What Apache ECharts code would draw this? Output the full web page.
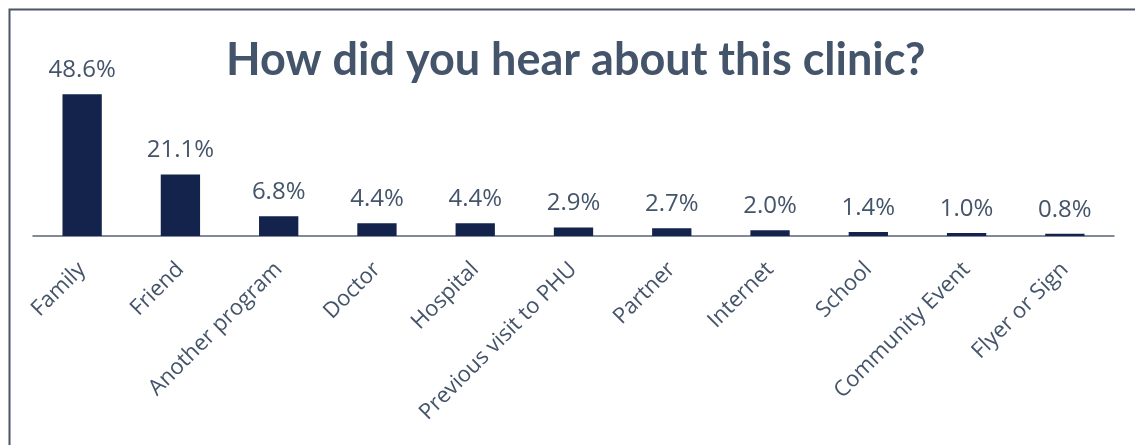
<!DOCTYPE html>
<html>
<head>
<meta charset="utf-8">
<script src="https://cdn.jsdelivr.net/npm/echarts@6/dist/echarts.min.js"></script>
<style>
  html, body { margin: 0; padding: 0; background: #fff; }
  #chart { width: 1135px; height: 445px; }
</style>
</head>
<body>
<div id="chart"></div>
<script>
const categories = ['Family', 'Friend', 'Another program', 'Doctor', 'Hospital',
  'Previous visit to PHU', 'Partner', 'Internet', 'School', 'Community Event', 'Flyer or Sign'];
const percentages = [48.6, 21.1, 6.8, 4.4, 4.4, 2.9, 2.7, 2.0, 1.4, 1.0, 0.8];

const textColor = '#44546a';
const chart = echarts.init(document.getElementById('chart'));

chart.setOption({
  backgroundColor: '#fff',
  animation: false,
  title: {
    text: 'How did you hear about this clinic?',
    left: 221,
    top: 33,
    textStyle: {
      fontFamily: 'Lato',
      fontWeight: 'bold',
      fontSize: 45,
      color: textColor
    }
  },
  graphic: [
    {
      type: 'rect',
      left: 7,
      top: 7,
      shape: { width: 1300, height: 600 },
      style: { fill: 'none', stroke: '#4a5568', lineWidth: 2 }
    }
  ],
  grid: {
    left: 33,
    right: 21,
    top: 61,
    bottom: 209,
    containLabel: false
  },
  xAxis: {
    type: 'category',
    data: categories,
    axisLine: { lineStyle: { color: '#5a6478', width: 1.5 } },
    axisTick: { show: false },
    axisLabel: {
      interval: 0,
      rotate: 45,
      margin: 30,
      color: textColor,
      fontFamily: 'Open Sans',
      fontSize: 22
    }
  },
  yAxis: {
    type: 'value',
    min: 0,
    max: 60,
    show: false,
    splitLine: { show: false }
  },
  series: [
    {
      type: 'bar',
      data: percentages,
      barWidth: '40%',
      itemStyle: { color: '#14234b' },
      label: {
        show: true,
        position: 'top',
        distance: 12,
        formatter: p => p.value.toFixed(1) + '%',
        color: textColor,
        fontFamily: 'Open Sans',
        fontSize: 24
      }
    }
  ]
});
</script>
</body>
</html>
